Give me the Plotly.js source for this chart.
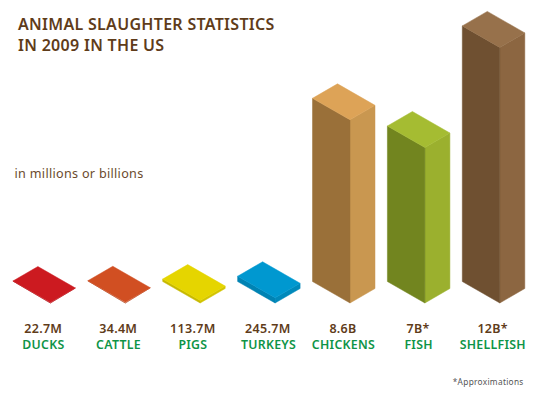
<!DOCTYPE html>
<html><head><meta charset="utf-8">
<script src="https://cdn.plot.ly/plotly-3.0.1.min.js"></script>
<style>html,body{margin:0;padding:0;background:#fff}
#c{width:541px;height:394px}
.annotation text{letter-spacing:.3px}</style></head>
<body><div id="c"></div>
<script>
// values in billions of animals, as drawn in the picture
const categories = ['DUCKS','CATTLE','PIGS','TURKEYS','CHICKENS','FISH','SHELLFISH'];
const amountLabels = ['22.7M','34.4M','113.7M','245.7M','8.6B','7B*','12B*'];
const billions = [0.0227,0.0344,0.1137,0.2457,8.6,7.3,12];
const topColors = ['#CC1A20','#D14F22','#E5D500','#0098D0','#DDA357','#A5BC32','#97714B'];
const leftColors = ['#A9161B','#AE421C','#C7B900','#0083B3','#9A7039','#72851F','#6F5031'];
const rightColors = ['#B5171D','#BA461E','#D2C400','#0089BB','#C99750','#9BB02E','#8C6641'];

const PX_PER_B = 21.3, PX_PER_CAT = 74.9, W = 541, H = 394, X0 = 50.4, Y0 = 303;
const dx = px => px / PX_PER_CAT, dy = px => px / PX_PER_B;
const LV = [dx(-37.5), dy(21.5)], RV = [dx(25), dy(14.5)];

function poly(xs, ys, color, name){
  return {type:'scatter',mode:'lines',x:xs.concat(xs[0]),y:ys.concat(ys[0]),fill:'toself',
    fillcolor:color,line:{color:color,width:0.5},hoverinfo:'name',name:name,showlegend:false};
}
const traces = [];
categories.forEach((c,i)=>{
  const v = billions[i];
  traces.push(poly([i,i+RV[0],i+RV[0],i],[0,RV[1],v+RV[1],v],rightColors[i],c));
  traces.push(poly([i,i+LV[0],i+LV[0],i],[0,LV[1],v+LV[1],v],leftColors[i],c));
  traces.push(poly([i,i+LV[0],i+LV[0]+RV[0],i+RV[0]],[v,v+LV[1],v+LV[1]+RV[1],v+RV[1]],topColors[i],c));
});
const brown='#5F3C1A', green='#0E9447', F='"Noto Sans", sans-serif';
const ann = [];
const cx = dx(-6.9);
categories.forEach((c,i)=>{
  ann.push({x:i+cx,y:dy(Y0-328),xref:'x',yref:'y',text:amountLabels[i],showarrow:false,
    font:{family:F,size:12.5,color:brown,weight:600}});
  ann.push({x:i+cx,y:dy(Y0-344),xref:'x',yref:'y',text:c,showarrow:false,
    font:{family:F,size:12.3,color:green,weight:600}});
});
ann.push({x:16/W,y:1-35/H,xref:'paper',yref:'paper',xanchor:'left',yanchor:'middle',align:'left',showarrow:false,
  text:'ANIMAL SLAUGHTER STATISTICS<br>IN 2009 IN THE US',font:{family:F,size:16,color:brown,weight:600}});
ann.push({x:15.5/W,y:1-173/H,xref:'paper',yref:'paper',xanchor:'left',yanchor:'middle',showarrow:false,
  text:'in millions or billions',font:{family:F,size:12.6,color:'#6B4A2C'}});
ann.push({x:453/W,y:1-381/H,xref:'paper',yref:'paper',xanchor:'left',yanchor:'middle',showarrow:false,
  text:'*Approximations',font:{family:F,size:8.3,color:'#555'}});
const layout = {width:W,height:H,margin:{l:0,r:0,t:0,b:0},paper_bgcolor:'#fff',plot_bgcolor:'#fff',showlegend:false,
  xaxis:{visible:false,fixedrange:true,range:[dx(-X0),dx(W-X0)]},
  yaxis:{visible:false,fixedrange:true,range:[dy(Y0-H),dy(Y0)]},
  annotations:ann};
Plotly.newPlot('c',traces,layout,{displayModeBar:false,staticPlot:true});
</script></body></html>
